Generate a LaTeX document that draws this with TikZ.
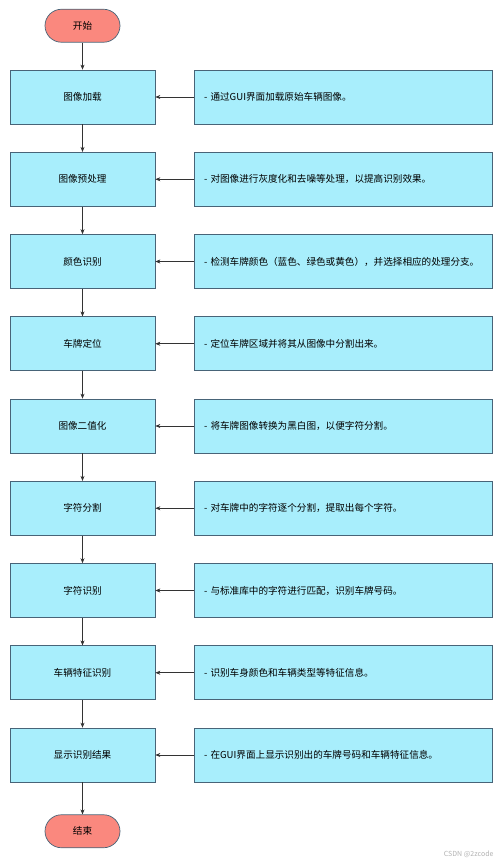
\documentclass[tikz,border=0pt]{standalone}
\usepackage{fontspec}
\newfontfamily\cjk{Noto Sans CJK SC}
\usetikzlibrary{arrows.meta, positioning}
\definecolor{stepFill}{RGB}{168,238,252}
\definecolor{endFill}{RGB}{250,136,126}
\definecolor{edgeCol}{RGB}{72,100,120}
\tikzstyle{fTerminal} = [rectangle, rounded corners=16.5pt, minimum width=75pt, minimum height=33pt, text centered, draw=edgeCol, line width=0.7pt, fill=endFill]
\tikzstyle{fStep} = [rectangle, minimum width=145pt, minimum height=54pt, text centered, draw=edgeCol, line width=0.7pt, fill=stepFill]
\tikzstyle{fNote} = [rectangle, minimum width=298pt, minimum height=54pt, text width=278pt, align=left, draw=edgeCol, line width=0.7pt, fill=stepFill]
\tikzstyle{fArrow} = [line width=0.6pt, draw=black!80, -{Stealth[length=5pt,width=4pt]}]

\begin{document}
\begin{tikzpicture}[node distance=82.25pt, font=\cjk\fontsize{9.6}{11}\selectfont]
    \useasboundingbox (0,0) rectangle (500pt,-861pt);
    \node (load) [fStep] at (82.5pt,-97pt) {图像加载};
    \node (start) [fTerminal, above of=load, yshift=-11pt] {开始};
    \node (prep) [fStep, below of=load] {图像预处理};
    \node (color) [fStep, below of=prep] {颜色识别};
    \node (locate) [fStep, below of=color] {车牌定位};
    \node (binary) [fStep, below of=locate] {图像二值化};
    \node (split) [fStep, below of=binary] {字符分割};
    \node (recog) [fStep, below of=split] {字符识别};
    \node (feature) [fStep, below of=recog] {车辆特征识别};
    \node (show) [fStep, below of=feature] {显示识别结果};
    \node (stop) [fTerminal, below of=show, yshift=6pt] {结束};

    \node (nload) [fNote, right of=load, xshift=178.25pt] {- 通过GUI界面加载原始车辆图像。};
    \node (nprep) [fNote, right of=prep, xshift=178.25pt] {- 对图像进行灰度化和去噪等处理，以提高识别效果。};
    \node (ncolor) [fNote, right of=color, xshift=178.25pt] {- 检测车牌颜色（蓝色、绿色或黄色），并选择相应的处理分支。};
    \node (nlocate) [fNote, right of=locate, xshift=178.25pt] {- 定位车牌区域并将其从图像中分割出来。};
    \node (nbinary) [fNote, right of=binary, xshift=178.25pt] {- 将车牌图像转换为黑白图，以便字符分割。};
    \node (nsplit) [fNote, right of=split, xshift=178.25pt] {- 对车牌中的字符逐个分割，提取出每个字符。};
    \node (nrecog) [fNote, right of=recog, xshift=178.25pt] {- 与标准库中的字符进行匹配，识别车牌号码。};
    \node (nfeature) [fNote, right of=feature, xshift=178.25pt] {- 识别车身颜色和车辆类型等特征信息。};
    \node (nshow) [fNote, right of=show, xshift=178.25pt] {- 在GUI界面上显示识别出的车牌号码和车辆特征信息。};

    \node (mark) [anchor=south east, text=black!30, font=\cjk\fontsize{7}{8}\selectfont] at (497pt,-861pt) {CSDN @2zcode};

    \draw [fArrow] (start) -- (load);
    \draw [fArrow] (load) -- (prep);
    \draw [fArrow] (prep) -- (color);
    \draw [fArrow] (color) -- (locate);
    \draw [fArrow] (locate) -- (binary);
    \draw [fArrow] (binary) -- (split);
    \draw [fArrow] (split) -- (recog);
    \draw [fArrow] (recog) -- (feature);
    \draw [fArrow] (feature) -- (show);
    \draw [fArrow] (show) -- (stop);

    \draw [fArrow] (nload) -- (load);
    \draw [fArrow] (nprep) -- (prep);
    \draw [fArrow] (ncolor) -- (color);
    \draw [fArrow] (nlocate) -- (locate);
    \draw [fArrow] (nbinary) -- (binary);
    \draw [fArrow] (nsplit) -- (split);
    \draw [fArrow] (nrecog) -- (recog);
    \draw [fArrow] (nfeature) -- (feature);
    \draw [fArrow] (nshow) -- (show);
\end{tikzpicture}
\end{document}
